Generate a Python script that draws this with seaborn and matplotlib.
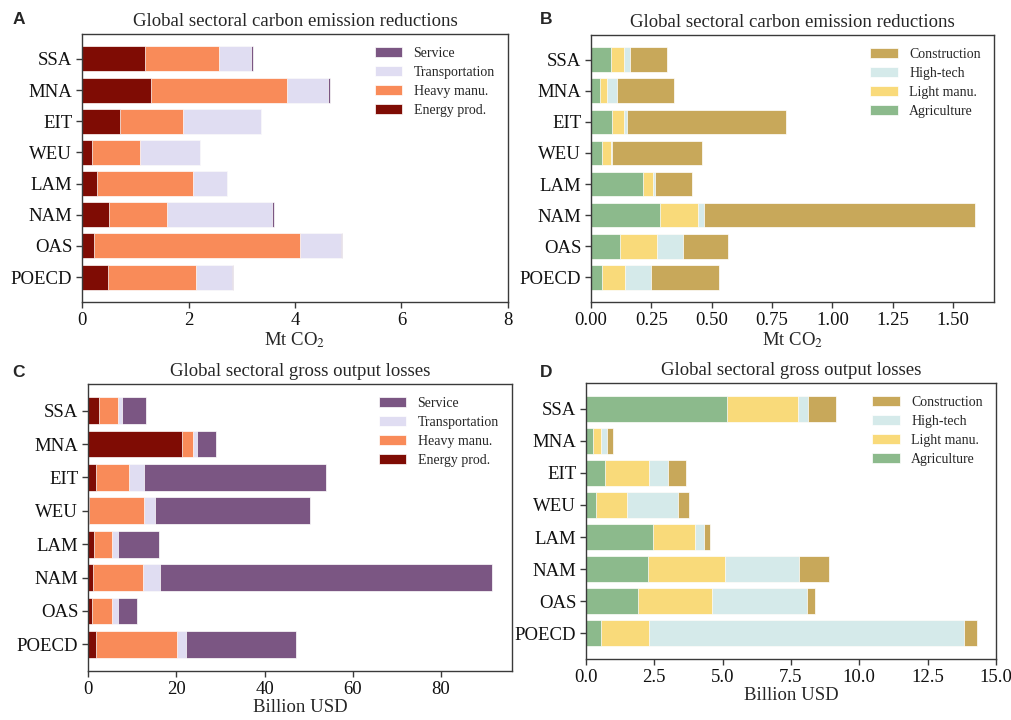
import numpy as np
import pandas as pd
import matplotlib
matplotlib.use("Agg")
import matplotlib.pyplot as plt
import seaborn as sns

# ---------------------------------------------------------------- data
regions = ["SSA", "MNA", "EIT", "WEU", "LAM", "NAM", "OAS", "POECD"]

# Carbon emission reductions, Mt CO2 (energy-intensive sectors)
co2_energy = [1.19, 1.30, 0.72, 0.18, 0.28, 0.50, 0.23, 0.48]
co2_heavy = [1.38, 2.55, 1.18, 0.91, 1.80, 1.09, 3.86, 1.67]
co2_transport = [0.61, 0.77, 1.46, 1.12, 0.64, 1.98, 0.78, 0.67]
co2_service = [0.03, 0.03, 0.01, 0.01, 0.01, 0.03, 0.01, 0.01]

# Carbon emission reductions, Mt CO2 (other sectors)
co2_agri = [0.083, 0.037, 0.086, 0.044, 0.214, 0.285, 0.122, 0.046]
co2_light = [0.055, 0.028, 0.052, 0.037, 0.043, 0.158, 0.151, 0.095]
co2_hightech = [0.022, 0.041, 0.011, 0.006, 0.008, 0.024, 0.110, 0.109]
co2_construction = [0.155, 0.239, 0.660, 0.373, 0.153, 1.123, 0.183, 0.280]

# Gross output losses, billion USD (energy-intensive sectors)
gdp_energy = [2.6, 21.4, 1.9, 0.2, 1.3, 1.1, 1.0, 1.7]
gdp_heavy = [4.2, 2.4, 7.4, 12.4, 4.1, 11.4, 4.4, 18.4]
gdp_transport = [1.0, 0.9, 3.3, 2.5, 1.5, 3.8, 1.5, 2.2]
gdp_service = [5.4, 4.4, 41.3, 35.2, 9.3, 75.2, 4.3, 24.9]

# Gross output losses, billion USD (other sectors)
gdp_agri = [5.15, 0.26, 0.70, 0.37, 2.46, 2.27, 1.89, 0.54]
gdp_light = [2.59, 0.29, 1.59, 1.14, 1.53, 2.82, 2.72, 1.78]
gdp_hightech = [0.39, 0.23, 0.70, 1.84, 0.34, 2.71, 3.48, 11.51]
gdp_construction = [1.03, 0.20, 0.67, 0.42, 0.19, 1.08, 0.29, 0.46]

sectors_a = ["Energy prod.", "Heavy manu.", "Transportation", "Service"]
sectors_b = ["Agriculture", "Light manu.", "High-tech", "Construction"]

colors_a = ["#7f0c04", "#f98b59", "#e0ddf2", "#7b5683"]
colors_b = ["#8cba8c", "#f9da7a", "#d5eaea", "#c8a85a"]

# ---------------------------------------------------------------- style
sns.set_theme(style="ticks")
plt.rcParams["font.family"] = ["Liberation Serif", "DejaVu Serif"]
plt.rcParams["mathtext.fontset"] = "stix"
plt.rcParams["axes.edgecolor"] = "#3a3a3a"
plt.rcParams["axes.linewidth"] = 1.0
plt.rcParams["xtick.color"] = "#3a3a3a"
plt.rcParams["ytick.color"] = "#3a3a3a"
plt.rcParams["xtick.labelcolor"] = "#111111"
plt.rcParams["ytick.labelcolor"] = "#111111"

fig = plt.figure(figsize=(10.12, 7.2), dpi=100)

W, H = 1012, 720


def add_axes(left, right, top, bottom):
    return fig.add_axes([left / W, 1 - bottom / H, (right - left) / W, (bottom - top) / H])


def stacked(ax, layers, names, colors, title, xlabel, xlim=None, xticks=None):
    """Horizontal stacked bars: draw cumulative totals from the outermost layer inwards."""
    cum = np.cumsum(np.array(layers, dtype=float), axis=0)
    for i in range(len(layers) - 1, -1, -1):
        df = pd.DataFrame({"region": regions, "value": cum[i]})
        sns.barplot(data=df, x="value", y="region", order=regions, orient="h",
                    color=colors[i], saturation=1, width=0.8, errorbar=None,
                    label=names[i], edgecolor="white", linewidth=0.5, ax=ax)
    ax.set_ylim(7.8, -0.8)
    if xlim is not None:
        ax.set_xlim(*xlim)
    if xticks is not None:
        ax.set_xticks(xticks)
    ax.set_ylabel("")
    ax.set_xlabel(xlabel, fontsize=13.5, labelpad=1)
    ax.set_title(title, fontsize=13.5, pad=6)
    ax.tick_params(axis="both", labelsize=13.5, length=4, width=1, pad=3)
    for s in ax.spines.values():
        s.set_visible(True)
    ax.legend(loc="upper right", frameon=False, fontsize=10, labelspacing=0.42,
              handlelength=2.0, handleheight=0.7, handletextpad=0.8,
              borderaxespad=0.55)


title_co2 = "Global sectoral carbon emission reductions"
title_gdp = "Global sectoral gross output losses"

ax_a = add_axes(82, 508, 34, 302)
stacked(ax_a, [co2_energy, co2_heavy, co2_transport, co2_service], sectors_a, colors_a,
        title_co2, "Mt CO$_2$", xlim=(0, 8), xticks=[0, 2, 4, 6, 8])

ax_b = add_axes(591, 994, 35, 302)
stacked(ax_b, [co2_agri, co2_light, co2_hightech, co2_construction], sectors_b, colors_b,
        title_co2, "Mt CO$_2$", xticks=[0, 0.25, 0.5, 0.75, 1.0, 1.25, 1.5])
ax_b.xaxis.set_major_formatter(matplotlib.ticker.FormatStrFormatter("%.2f"))

ax_c = add_axes(88, 512, 384, 671)
stacked(ax_c, [gdp_energy, gdp_heavy, gdp_transport, gdp_service], sectors_a, colors_a,
        title_gdp, "Billion USD", xticks=[0, 20, 40, 60, 80])

ax_d = add_axes(586, 996, 383, 659)
stacked(ax_d, [gdp_agri, gdp_light, gdp_hightech, gdp_construction], sectors_b, colors_b,
        title_gdp, "Billion USD", xlim=(0, 15), xticks=np.arange(0, 15.1, 2.5))
ax_d.xaxis.set_major_formatter(matplotlib.ticker.FormatStrFormatter("%.1f"))

# panel letters
for letter, (x, y) in zip("ABCD", [(19, 19), (546, 19), (19, 372), (546, 372)]):
    fig.text(x / W, 1 - y / H, letter, fontsize=12.5, fontweight="bold",
             family=["Liberation Sans", "DejaVu Sans"], ha="center", va="center")

fig.savefig("out.png", dpi=100)
